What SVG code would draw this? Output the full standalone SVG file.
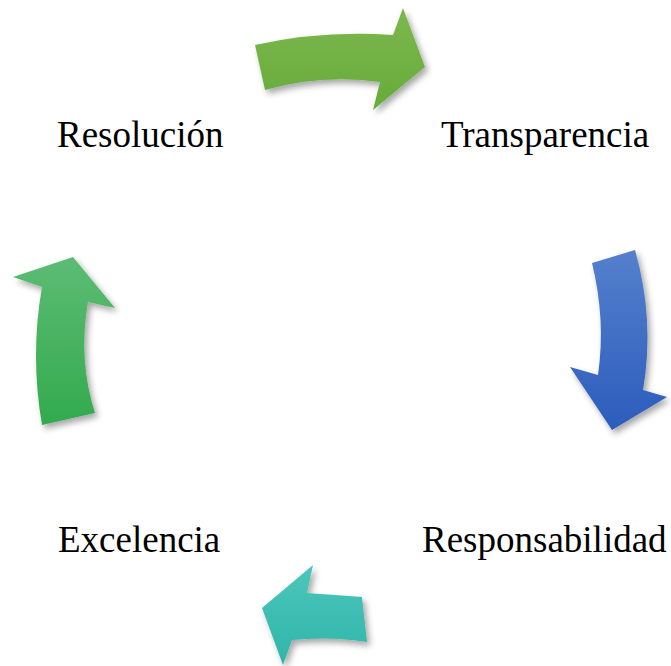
<svg xmlns="http://www.w3.org/2000/svg" width="671" height="666" viewBox="0 0 671 666">
<defs>
<filter id="sh" x="-30%" y="-30%" width="160%" height="160%">
<feDropShadow dx="3" dy="4" stdDeviation="3" flood-color="#000" flood-opacity="0.35"/>
</filter>
<linearGradient id="gTop" x1="0" y1="0" x2="0" y2="1"><stop offset="0" stop-color="#7db84e"/><stop offset="1" stop-color="#66ab3a"/></linearGradient>
<linearGradient id="gBlue" x1="0" y1="0" x2="0" y2="1"><stop offset="0" stop-color="#5580cc"/><stop offset="1" stop-color="#2c5cbd"/></linearGradient>
<linearGradient id="gTeal" x1="0" y1="0" x2="0" y2="1"><stop offset="0" stop-color="#4cc6bb"/><stop offset="1" stop-color="#30b5aa"/></linearGradient>
<linearGradient id="gLeft" x1="0" y1="0" x2="0" y2="1"><stop offset="0" stop-color="#5cbc74"/><stop offset="1" stop-color="#33aa4e"/></linearGradient>
</defs>
<style>
.lbl{font-family:"Liberation Serif","Times New Roman",serif;font-size:37px;fill:#000}
.arr{filter:url(#sh)}
</style>
<g id="connectors">
<path class="arr" fill="url(#gTop)" d="M255,45 Q322,30 393,35 L403,8 L425,67 L373,110 L380,82 Q322,74 265,90 Z"/>
<path class="arr" fill="url(#gBlue)" d="M592,263 L635,250 Q655,320 643,390 L667,397 L612,430 L570,367 L598,375 Q606,320 592,263 Z"/>
<path class="arr" fill="url(#gTeal)" d="M362,597 L367,642 Q330,636 292,640 L283,665 L262,608 L313,565 L307,593 Q335,595 362,597 Z"/>
<path class="arr" fill="url(#gLeft)" d="M42,425 L95,413 Q78,360 88,302 L115,308 L73,257 L13,277 L42,287 Q30,355 42,425 Z"/>
</g>
<g id="resolucion"><text class="lbl" x="57" y="147">Resolución</text></g>
<g id="transparencia"><text class="lbl" x="441" y="147">Transparencia</text></g>
<g id="responsabilidad"><text class="lbl" x="422" y="552">Responsabilidad</text></g>
<g id="excelencia"><text class="lbl" x="58" y="552">Excelencia</text></g>
</svg>
